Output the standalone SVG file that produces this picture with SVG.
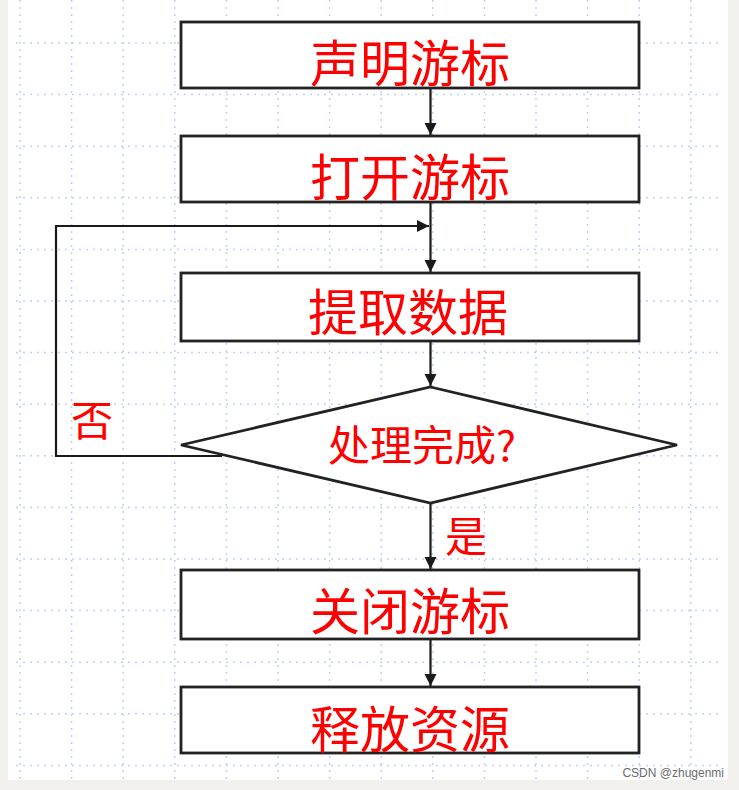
<svg xmlns="http://www.w3.org/2000/svg" width="739" height="790" viewBox="0 0 739 790">
  <style>
    .grid line { stroke: #c2d0f2; stroke-width: 1.5; stroke-dasharray: 2 5; }
    .box { fill: #ffffff; stroke: #222222; stroke-width: 2.8; }
    .lbl { font-family: "Noto Sans CJK SC", "Liberation Sans", sans-serif; fill: #ff0000; text-anchor: middle; }
    .big { font-size: 50px; }
    .mid { font-size: 42px; }
    .conn { fill: none; stroke: #1a1a1a; stroke-width: 2.2; }
  </style>
  <defs>
    <marker id="arr" viewBox="0 0 10 10" refX="10" refY="5" markerWidth="5.5" markerHeight="5.5" orient="auto" markerUnits="strokeWidth">
      <path d="M0,0 L10,5 L0,10 z" fill="#1a1a1a"/>
    </marker>
  </defs>
  <rect x="0" y="0" width="739" height="790" fill="#f1f0ec"/>
  <rect x="8" y="0" width="720" height="780" fill="#ffffff"/>
  <g class="grid">
    <line x1="20" y1="0" x2="20" y2="780"/>
    <line x1="71.6" y1="0" x2="71.6" y2="780"/>
    <line x1="123.2" y1="0" x2="123.2" y2="780"/>
    <line x1="174.8" y1="0" x2="174.8" y2="780"/>
    <line x1="226.4" y1="0" x2="226.4" y2="780"/>
    <line x1="278" y1="0" x2="278" y2="780"/>
    <line x1="329.6" y1="0" x2="329.6" y2="780"/>
    <line x1="381.2" y1="0" x2="381.2" y2="780"/>
    <line x1="432.8" y1="0" x2="432.8" y2="780"/>
    <line x1="484.4" y1="0" x2="484.4" y2="780"/>
    <line x1="536" y1="0" x2="536" y2="780"/>
    <line x1="587.6" y1="0" x2="587.6" y2="780"/>
    <line x1="639.2" y1="0" x2="639.2" y2="780"/>
    <line x1="690.8" y1="0" x2="690.8" y2="780"/>
    <line x1="16" y1="43" x2="722" y2="43"/>
    <line x1="16" y1="94.6" x2="722" y2="94.6"/>
    <line x1="16" y1="146.2" x2="722" y2="146.2"/>
    <line x1="16" y1="197.8" x2="722" y2="197.8"/>
    <line x1="16" y1="249.4" x2="722" y2="249.4"/>
    <line x1="16" y1="301" x2="722" y2="301"/>
    <line x1="16" y1="352.6" x2="722" y2="352.6"/>
    <line x1="16" y1="404.2" x2="722" y2="404.2"/>
    <line x1="16" y1="455.8" x2="722" y2="455.8"/>
    <line x1="16" y1="507.4" x2="722" y2="507.4"/>
    <line x1="16" y1="559" x2="722" y2="559"/>
    <line x1="16" y1="610.6" x2="722" y2="610.6"/>
    <line x1="16" y1="662.2" x2="722" y2="662.2"/>
    <line x1="16" y1="713.8" x2="722" y2="713.8"/>
    <line x1="16" y1="765.4" x2="722" y2="765.4"/>
  </g>
  <g id="connectors">
    <line class="conn" x1="430.5" y1="88" x2="430.5" y2="135" marker-end="url(#arr)"/>
    <line class="conn" x1="430.5" y1="202" x2="430.5" y2="272" marker-end="url(#arr)"/>
    <polyline class="conn" points="222,456 56,456 56,226 429,226" marker-end="url(#arr)"/>
    <line class="conn" x1="430.5" y1="341" x2="430.5" y2="386" marker-end="url(#arr)"/>
    <line class="conn" x1="430.5" y1="503" x2="430.5" y2="569" marker-end="url(#arr)"/>
    <line class="conn" x1="430.5" y1="639" x2="430.5" y2="686" marker-end="url(#arr)"/>
  </g>
  <g id="n1">
    <rect class="box" x="181" y="22" width="458" height="66"/>
    <text class="lbl big" x="410" y="82">声明游标</text>
  </g>
  <g id="n2">
    <rect class="box" x="181" y="136" width="458" height="66"/>
    <text class="lbl big" x="410" y="196">打开游标</text>
  </g>
  <g id="n3">
    <rect class="box" x="181" y="273" width="458" height="68"/>
    <text class="lbl big" x="408" y="331">提取数据</text>
  </g>
  <g id="n4">
    <polygon class="box" points="430.5,387 677,445 430.5,503 181,445"/>
    <text class="lbl mid" x="422" y="461">处理完成?</text>
  </g>
  <g id="n5">
    <rect class="box" x="181" y="570" width="458" height="69"/>
    <text class="lbl big" x="410" y="630">关闭游标</text>
  </g>
  <g id="n6">
    <rect class="box" x="181" y="687" width="458" height="66"/>
    <text class="lbl big" x="410" y="748">释放资源</text>
  </g>
  <g id="labels">
    <text class="lbl mid" x="92" y="436">否</text>
    <text class="lbl mid" x="466" y="552">是</text>
  </g>
  <text x="724" y="777" font-family="Liberation Sans, sans-serif" font-size="12" fill="#6b6b6b" text-anchor="end">CSDN @zhugenmi</text>
</svg>
